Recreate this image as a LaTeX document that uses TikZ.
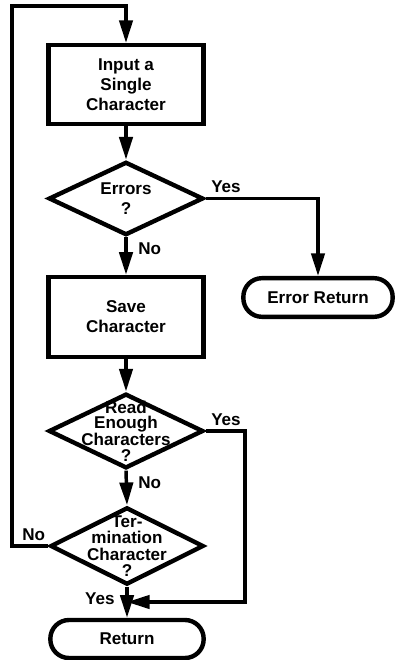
\documentclass[tikz,border=0pt]{standalone}
\usepackage{fontspec}
\setmainfont{Liberation Sans}
\usetikzlibrary{shapes.geometric,arrows.meta,calc}

\begin{document}
\begin{tikzpicture}[x=0.75pt,y=0.75pt,yscale=-1,xscale=1,
		font=\fontsize{12.8}{15}\selectfont\bfseries,
		procbox/.style={draw, line width=3.3pt, minimum width=116pt, minimum height=59pt, align=center},
		decision/.style={draw, diamond, line width=3.3pt, minimum width=116pt, minimum height=55pt, inner sep=0pt},
		terminal/.style={draw, rectangle, rounded corners=14pt, line width=3.3pt, minimum width=113pt, minimum height=29pt},
		flow/.style={line width=2.6pt, -{Triangle[length=17pt,width=10pt]}},
		ans/.style={inner ysep=3pt, inner xsep=3pt},
		ansb/.style={inner ysep=3pt, inner xsep=8pt}]
		\useasboundingbox (0,0) rectangle (394,660);

		\node [procbox] (input) at (126,84.5) {Input a\\Single\\Character};
		\node [decision, label={[align=center]center:{Errors\\?}}] (errors) at (126,198.5) {};
		\node [terminal, minimum width=112pt] (errret) at (318,297.5) {Error Return};
		\node [procbox, minimum height=60pt] (save) at (126,317) {Save\\Character};
		\node [decision, minimum height=56pt, label={[align=center, font=\fontsize{12.8}{11.5}\selectfont\bfseries]center:{Read\\Enough\\Characters\\?}}] (read) at (126,431) {};
		\node [decision, minimum width=115pt, minimum height=58pt, label={[align=center, font=\fontsize{12.8}{12.4}\selectfont\bfseries]center:{Ter-\\mination\\Character\\?}}] (term) at (127,546) {};
		\node [terminal, minimum width=115pt, minimum height=28.5pt] (ret) at (127,639) {Return};

		\coordinate (loop) at (12,6);
		\coordinate (rside) at (245,602);
		\coordinate (merge) at (127,602);

		\draw [flow] (term.west) node [ans, inner xsep=1pt, above left] {No} -| (loop) -| (input.north);
		\draw [flow] (input.south) -- (errors.north);
		\draw [flow] (errors.east) node [ans, above right] {Yes} -| (errret.north);
		\draw [flow] (errors.south) node [ansb, below right] {No} -- (save.north);
		\draw [flow] (save.south) -- (read.north);
		\draw [flow] (read.east) node [ans, above right] {Yes} -| (rside) -- (merge);
		\draw [flow] (read.south) node [ansb, below right] {No} -- (term.north);
		\draw [flow] (term.south) node [ansb, below left] {Yes} -- (ret.north);
\end{tikzpicture}
\end{document}
